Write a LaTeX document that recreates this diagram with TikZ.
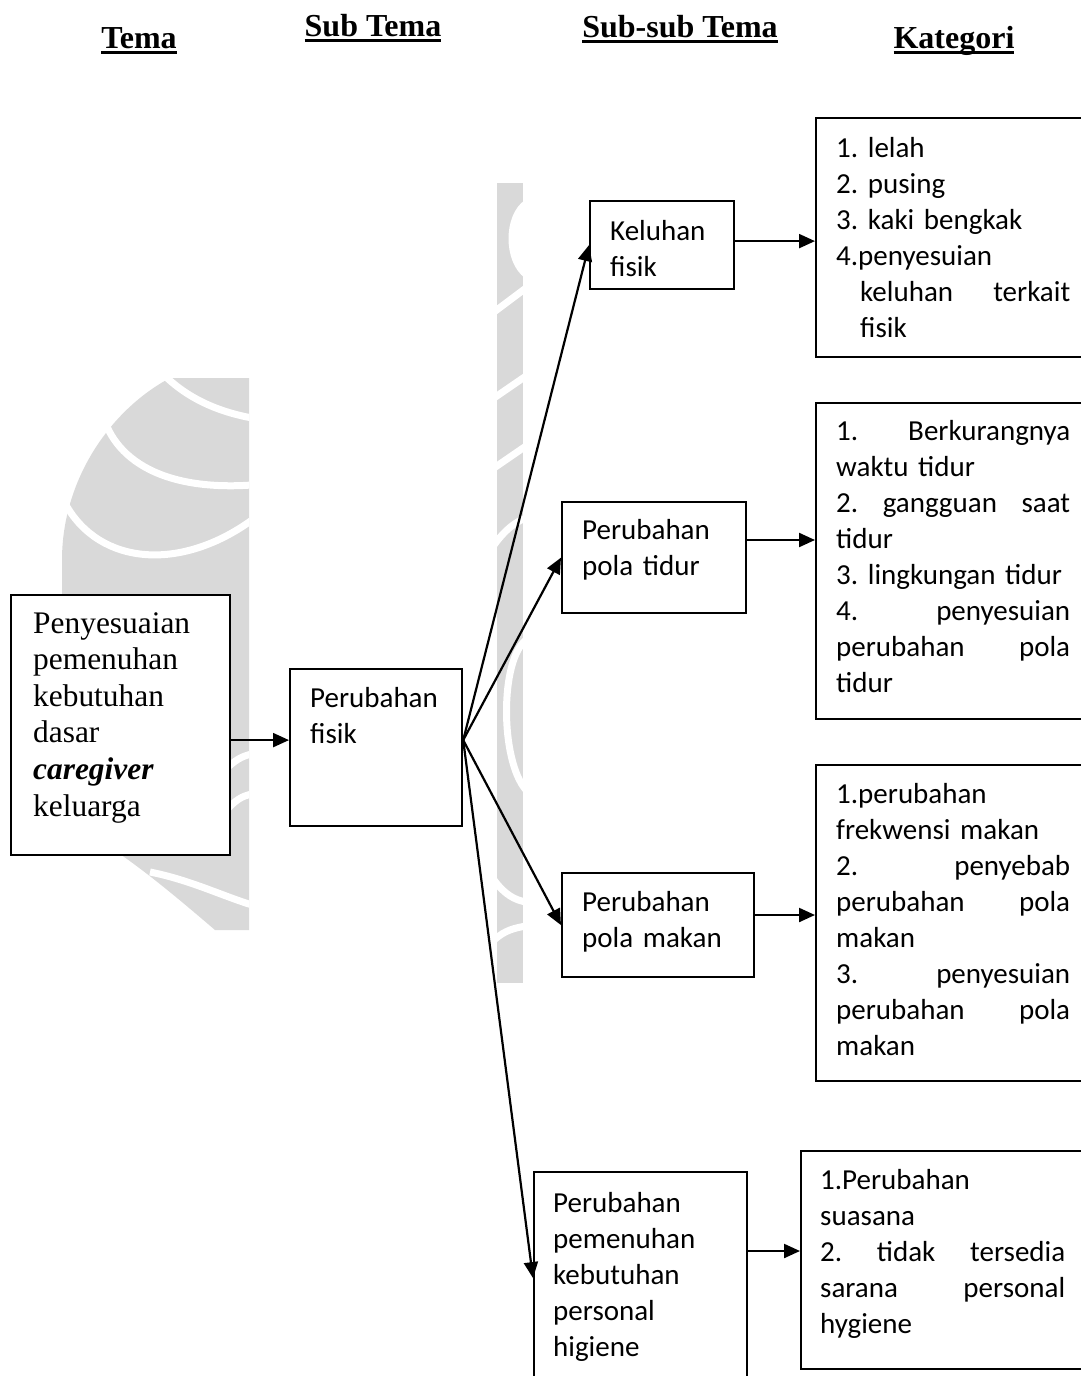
\documentclass[tikz,border=0pt]{standalone}
\usepackage{fontspec}
\setmainfont{Carlito}
\newfontfamily\timesfont{Liberation Serif}
\usetikzlibrary{arrows.meta}
\definecolor{wmgray}{RGB}{217,217,217}
% heading text with a thick underline
\newcommand\headul[1]{\setbox0\hbox{#1}\rlap{\rule[-6pt]{\wd0}{3pt}}\box0}
\frenchspacing

\begin{document}
\begin{tikzpicture}[x=1pt,y=-1pt,
  box/.style={draw, line width=2.2pt, fill=white, anchor=north west, inner sep=0pt},
  body/.style={anchor=base west, inner sep=0pt, align=left, text width=#1,
               font=\frenchspacing\fontsize{29}{36}\selectfont},
  body/.default=210pt,
  serifbody/.style={anchor=base west, inner sep=0pt, align=left, text width=190pt,
               font=\timesfont\fontsize{31.4}{36.6}\selectfont},
  arr/.style={line width=2.2pt, -{Triangle[length=16pt,width=14pt]}},
  head/.style={anchor=base, inner sep=0pt, font=\timesfont\bfseries\fontsize{32}{36}\selectfont},
  band/.style={white, line width=7pt}]

\useasboundingbox (0,0) rectangle (1081,1376);
\clip (0,0) rectangle (1081,1376);

% ---------- faint background emblem ----------
\begin{scope}
  \clip (62,378) rectangle (249,930);
  \fill[wmgray] (170,378) -- (249,378) -- (249,930) -- (215,930)
        .. controls (180,900) and (150,875) .. (120,854) -- (62,854) -- (62,560)
        .. controls (62,480) and (110,410) .. (170,378) -- cycle;
  \draw[band] (165,376) .. controls (190,400) and (220,412) .. (252,418);
  \draw[band] (100,400) .. controls (105,450) and (150,492) .. (252,485);
  \draw[band] (66,505) .. controls (100,565) and (180,572) .. (252,520);
  \draw[band] (225,770) .. controls (235,760) and (242,756) .. (252,754);
  \draw[band] (225,812) .. controls (235,800) and (242,796) .. (252,794);
  \draw[band] (150,872) .. controls (190,880) and (220,895) .. (252,905);
\end{scope}
\begin{scope}
  \clip (497,183) rectangle (523,983);
  \fill[wmgray] (497,183) rectangle (523,983);
  \fill[white] (525,200) .. controls (503,215) and (503,262) .. (525,278) -- cycle;
  \draw[band] (494,312) -- (526,288);
  \draw[band] (494,398) -- (526,376);
  \draw[band] (494,468) -- (526,446);
  \draw[band] (494,545) .. controls (505,530) and (515,522) .. (526,518);
  \draw[band] (526,640) .. controls (500,660) and (500,760) .. (526,790);
  \draw[band] (494,880) .. controls (505,895) and (515,900) .. (526,902);
  \draw[band] (494,940) .. controls (505,930) and (515,928) .. (526,926);
\end{scope}

% ---------- column headings ----------
\node[head] (h1) at (139,48) {\headul{Tema}};
\node[head] (h2) at (373,36) {\headul{Sub Tema}};
\node[head] (h3) at (680,37) {\headul{Sub-sub Tema}};
\node[head] (h4) at (954,48) {\headul{Kategori}};

% ---------- theme ----------
\node[box, minimum width=219pt, minimum height=260pt] (tema) at (10,594) {};
\node[serifbody] (tema-t) at (33,633)
  {Penyesuaian\\pemenuhan\\kebutuhan\\dasar\\\textbf{\textit{caregiver}}\\keluarga};

% ---------- sub theme ----------
\node[box, minimum width=172pt, minimum height=157pt] (fisik) at (289,668) {};
\node[body] (fisik-t) at (310,707) {Perubahan\\fisik};

% ---------- sub-sub themes ----------
\node[box, minimum width=144pt, minimum height=88pt] (keluhan) at (589,200) {};
\node[body] (keluhan-t) at (610,240) {Keluhan\\fisik};

\node[box, minimum width=184pt, minimum height=111pt] (tidur) at (561,501) {};
\node[body] (tidur-t) at (582,539) {Perubahan\\pola tidur};

\node[box, minimum width=192pt, minimum height=104pt] (makan) at (561,872) {};
\node[body] (makan-t) at (582,911) {Perubahan\\pola makan};

\node[box, minimum width=213pt, minimum height=212pt] (higiene) at (533,1171) {};
\node[body] (higiene-t) at (553,1212)
  {Perubahan\\pemenuhan\\kebutuhan\\personal\\higiene};

% ---------- categories ----------
\node[box, minimum width=280pt, minimum height=239pt] (kat1) at (815,117) {};
\node[body=234pt] (kat1-t) at (836,157)
  {1. lelah\\2. pusing\\3. kaki bengkak\\4.penyesuian\\
   \hspace*{24pt}keluhan\hfill terkait\\\hspace*{24pt}fisik};

\node[box, minimum width=280pt, minimum height=316pt] (kat2) at (815,402) {};
\node[body=234pt] (kat2-t) at (836,440)
  {1.\hfill Berkurangnya\\waktu tidur\\2.\hfill gangguan\hfill saat\\tidur\\
   3. lingkungan tidur\\4.\hfill penyesuian\\perubahan\hfill pola\\tidur};

\node[box, minimum width=280pt, minimum height=316pt] (kat3) at (815,764) {};
\node[body=234pt] (kat3-t) at (836,803)
  {1.perubahan\\frekwensi makan\\2.\hfill penyebab\\perubahan\hfill pola\\makan\\
   3.\hfill penyesuian\\perubahan\hfill pola\\makan};

\node[box, minimum width=295pt, minimum height=218pt] (kat4) at (800,1150) {};
\node[body=245pt] (kat4-t) at (820,1189)
  {1.Perubahan\\suasana\\2.\hfill tidak\hfill tersedia\\sarana\hfill personal\\hygiene};

% ---------- connectors ----------
\coordinate (hub) at ([yshift=7.5pt]fisik.east);
\draw[arr] (tema.east |- hub) -- (fisik.west |- hub);
\draw[arr] (hub) -- (keluhan.west);
\draw[arr] (hub) -- (tidur.west);
\draw[arr] (hub) -- (makan.west);
\draw[arr] (hub) -- (higiene.west);

\coordinate (keluhan-o) at ([yshift=4pt]keluhan.east);
\draw[arr] (keluhan-o) -- (kat1.west |- keluhan-o);
\coordinate (tidur-o) at ([yshift=-39pt]tidur.north east);
\draw[arr] (tidur-o) -- (kat2.west |- tidur-o);
\coordinate (makan-o) at ([yshift=-43pt]makan.north east);
\draw[arr] (makan-o) -- (kat3.west |- makan-o);
\coordinate (higiene-o) at ([yshift=-80pt]higiene.north east);
\draw[arr] (higiene-o) -- (kat4.west |- higiene-o);
\end{tikzpicture}
\end{document}
